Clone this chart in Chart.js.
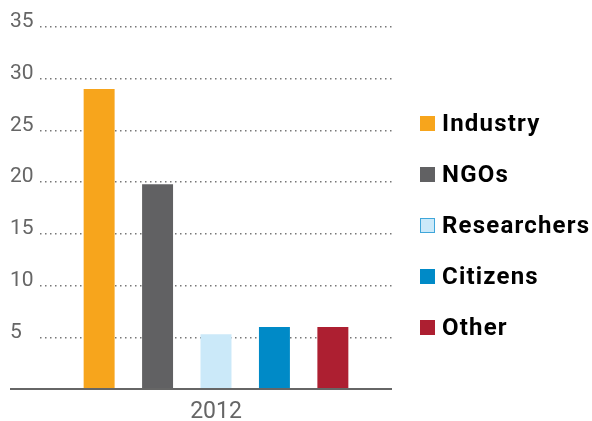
<!DOCTYPE html>
<html>
<head>
<meta charset="utf-8">
<script src="https://cdn.jsdelivr.net/npm/chart.js@4.4.1/dist/chart.umd.min.js"></script>
<style>
  html, body { margin: 0; padding: 0; background: #fff; }
  #wrap { position: relative; width: 592px; height: 421px; }
  #legend {
    position: absolute; left: 420px; top: 108px;
    font-family: Roboto, sans-serif; font-weight: 700; font-size: 24px;
    letter-spacing: 1.2px; color: #000;
  }
  #legend .row { display: flex; align-items: center; height: 30px; margin-bottom: 21px; }
  #legend .sw { width: 15px; height: 15px; margin-right: 7px; box-sizing: border-box; }
</style>
</head>
<body>
<div id="wrap">
  <canvas id="chart" width="592" height="421"></canvas>
  <div id="legend"></div>
</div>
<script>
const categories = ['2012'];
const seriesNames = ['Industry', 'NGOs', 'Researchers', 'Citizens', 'Other'];
const seriesValues = [29, 19.8, 5.3, 6, 6];
const seriesColors = ['#f7a51c', '#616163', '#cbe9f9', '#008ac7', '#ad1f31'];
const yTicks = [0, 5, 10, 15, 20, 25, 30, 35];

// baseline runs under the tick labels too
const baseline = {
  id: 'baseline',
  afterDraw(chart) {
    const ctx = chart.ctx;
    const y = chart.scales.y.getPixelForValue(0);
    ctx.save();
    ctx.strokeStyle = '#666';
    ctx.lineWidth = 2;
    ctx.beginPath();
    ctx.moveTo(10, y);
    ctx.lineTo(chart.chartArea.right, y);
    ctx.stroke();
    ctx.restore();
  }
};

const ctx = document.getElementById('chart').getContext('2d');
new Chart(ctx, {
  type: 'bar',
  data: {
    labels: categories,
    datasets: seriesNames.map((name, i) => ({
      label: name,
      data: [seriesValues[i]],
      backgroundColor: seriesColors[i],
      borderWidth: 0
    }))
  },
  options: {
    responsive: false,
    animation: false,
    categoryPercentage: 0.83,
    barPercentage: 0.53,
    layout: { padding: { left: 10, right: 200, top: 27, bottom: 0 } },
    plugins: { legend: { display: false }, tooltip: { enabled: false } },
    scales: {
      x: {
        grid: { display: false, drawTicks: false },
        border: { display: false },
        ticks: { color: '#666', padding: 9, font: { family: 'Roboto', size: 23 } },
        afterFit(s) { s.height = 32; }
      },
      y: {
        min: 0, max: 35,
        afterBuildTicks(s) { s.ticks = yTicks.map(v => ({ value: v })); },
        afterFit(s) { s.width = 30; },
        grid: {
          color: '#777', lineWidth: 1.5, drawTicks: false,
          tickBorderDash: [1.5, 3.5]
        },
        border: { display: false, dash: [1.5, 3.5] },
        ticks: {
          color: '#666', crossAlign: 'far', padding: 0, labelOffset: -5,
          font: { family: 'Roboto', size: 21 },
          callback: v => v === 0 ? '' : v
        }
      }
    }
  },
  plugins: [baseline]
});

const legend = document.getElementById('legend');
seriesNames.forEach((name, i) => {
  const row = document.createElement('div');
  row.className = 'row';
  const sw = document.createElement('span');
  sw.className = 'sw';
  sw.style.background = seriesColors[i];
  if (name === 'Researchers') sw.style.border = '1.5px solid #3fa6da';
  const t = document.createElement('span');
  t.textContent = name;
  row.appendChild(sw);
  row.appendChild(t);
  legend.appendChild(row);
});
</script>
</body>
</html>
